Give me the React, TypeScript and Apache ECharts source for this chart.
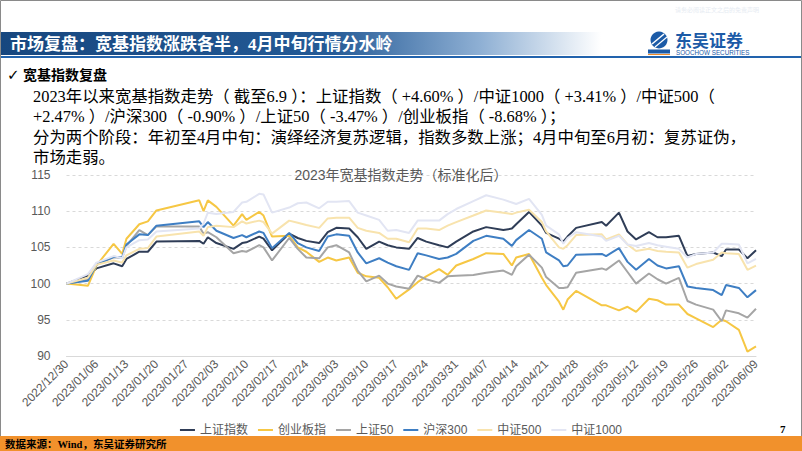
import React, { useEffect, useRef } from 'react';
import * as echarts from 'echarts';

const dates = ['2022/12/30','2023/01/04','2023/01/06','2023/01/10','2023/01/12','2023/01/13','2023/01/16','2023/01/18','2023/01/20','2023/01/30','2023/01/31','2023/02/01','2023/02/03','2023/02/07','2023/02/09','2023/02/10','2023/02/13','2023/02/14','2023/02/16','2023/02/20','2023/02/22','2023/02/24','2023/02/27','2023/03/01','2023/03/03','2023/03/06','2023/03/08','2023/03/10','2023/03/13','2023/03/15','2023/03/17','2023/03/20','2023/03/22','2023/03/24','2023/03/27','2023/03/29','2023/03/31','2023/04/04','2023/04/07','2023/04/11','2023/04/13','2023/04/14','2023/04/17','2023/04/20','2023/04/21','2023/04/24','2023/04/25','2023/04/26','2023/04/28','2023/05/04','2023/05/05','2023/05/08','2023/05/10','2023/05/12','2023/05/15','2023/05/17','2023/05/19','2023/05/22','2023/05/24','2023/05/26','2023/05/30','2023/06/01','2023/06/02','2023/06/05','2023/06/07','2023/06/09'];

// 上证指数
const shIndex = [100,101.1,102.1,102.8,102.4,103.4,104.4,104.4,105.8,105.9,105.5,106.4,105.6,104.8,105.6,105.7,106.5,106.2,104.6,106.9,106.3,105.9,105.6,107.1,107.7,107.6,106.4,104.8,105.8,105.3,105.0,104.8,106.3,105.8,105.3,105.0,105.8,107.2,107.8,107.4,107.6,108.2,109.9,108.0,107.0,106.2,105.8,106.5,107.7,108.5,108.0,109.8,107.2,106.1,107.1,106.4,106.4,106.6,103.8,104.1,104.3,103.8,104.7,104.7,103.5,104.6];
// 创业板指
const cybIndex = [100,99.7,102.5,105.5,104.1,106.2,108.2,108.6,110.1,111.5,110.0,111.5,110.6,108.0,109.6,108.8,109.9,109.4,106.5,106.6,105.0,104.4,103.0,103.6,103.2,103.6,101.5,101.0,100.8,99.5,97.9,99.2,100.2,101.0,102.0,101.2,102.5,103.4,104.2,104.1,102.5,103.6,104.1,100.8,99.8,97.5,96.4,97.8,99.0,97.0,97.0,96.3,96.8,96.1,97.9,97.7,97.1,97.1,95.8,95.2,94.0,95.0,94.8,93.6,90.6,91.32];
// 上证50
const sz50 = [100,100.6,102.8,103.6,103.6,105.2,107.4,106.7,107.9,107.9,106.9,107.1,106.4,104.2,104.5,104.4,105.3,105.0,103.2,106.3,104.8,103.6,103.5,105.0,105.3,104.3,101.8,100.3,101.1,100.0,99.6,99.3,101.1,100.6,100.1,101.0,101.1,101.2,101.5,101.8,101.2,102.4,104.0,102.2,100.9,99.4,99.4,99.5,101.5,102.1,101.9,103.2,101.6,100.0,101.4,100.6,100.0,100.8,97.6,97.1,96.4,94.8,96.3,95.9,95.3,96.53];
// 沪深300
const hs300 = [100,100.4,102.6,103.7,103.6,105.4,106.8,106.7,108.0,108.6,107.8,108.5,107.3,106.3,106.7,106.4,107.2,107.0,104.9,107.0,105.6,105.0,104.5,106.5,106.8,106.6,104.3,102.8,103.5,102.9,102.4,101.9,104.2,103.9,103.4,103.6,104.1,105.9,106.6,106.2,105.2,106.0,107.4,106.2,104.3,103.2,102.4,102.5,104.0,104.1,103.8,104.9,103.0,101.9,103.4,102.5,102.1,102.4,99.6,99.4,99.1,98.4,99.8,99.4,98.1,99.1];
// 中证500
const zz500 = [100,100.8,102.6,103.2,102.9,103.9,104.8,104.9,106.5,107.2,106.6,107.8,108.0,107.8,108.6,108.3,108.7,108.5,106.9,108.7,108.4,108.1,107.7,109.0,109.1,109.1,107.7,107.3,107.0,106.2,106.2,105.7,107.6,107.6,107.4,108.0,108.5,109.4,110.1,109.8,109.6,109.8,110.2,108.5,107.2,105.0,104.8,105.3,106.7,106.8,106.1,106.8,105.4,104.5,104.8,104.5,104.4,104.3,102.2,102.7,103.3,104.3,104.2,104.1,101.9,102.47];
// 中证1000
const zz1000 = [100,101.3,102.9,103.8,103.5,105.0,106.0,106.1,107.2,107.6,108.3,109.8,109.6,109.9,111.2,111.3,112.4,112.3,109.8,110.5,111.1,111.2,110.4,111.3,111.3,111.4,109.8,109.4,108.8,107.3,107.4,107.0,108.7,108.7,108.7,109.6,110.3,111.4,112.2,111.6,111.2,111.0,111.7,109.5,108.0,106.8,105.5,106.3,107.1,106.5,105.9,106.6,105.4,105.2,105.6,105.3,105.1,104.8,103.6,104.1,104.3,105.5,105.5,105.4,102.8,103.41];

const seriesNames = ['上证指数', '创业板指', '上证50', '沪深300', '中证500', '中证1000'];
const seriesValues = [shIndex, cybIndex, sz50, hs300, zz500, zz1000];
const seriesColors = ['#2f3d57', '#f6c744', '#a5a5a5', '#3e7ec3', '#f8e3ad', '#e2e5f3'];

const yMin = 90;
const yMax = 115;
const yStep = 5;
const xStepDays = 7;

const chartTitle = '2023年宽基指数走势（标准化后）';
const headerTitle = '市场复盘：宽基指数涨跌各半，4月中旬行情分水岭';
const heading = '宽基指数复盘';
const bodyLines = [
  '2023年以来宽基指数走势（ 截至6.9 ）：上证指数（ +4.60% ）/中证1000（ +3.41% ）/中证500（',
  '+2.47% ）/沪深300（ -0.90% ）/上证50（ -3.47% ）/创业板指（ -8.68% ）；',
  '分为两个阶段：年初至4月中旬：演绎经济复苏逻辑，指数多数上涨；4月中旬至6月初：复苏证伪，',
  '市场走弱。',
];
const sourceText = '数据来源：Wind，东吴证券研究所';

const BASE = Date.UTC(2022, 11, 30);
const DAY = 86400000;
const pad = (n: number) => (n < 10 ? '0' + n : '' + n);
const dayOffset = (s: string) => {
  const [y, m, d] = s.split('/').map(Number);
  return Math.round((Date.UTC(y, m - 1, d) - BASE) / DAY);
};
const offsetLabel = (v: number) => {
  const t = new Date(BASE + Math.round(v) * DAY);
  return `${t.getUTCFullYear()}/${pad(t.getUTCMonth() + 1)}/${pad(t.getUTCDate())}`;
};

const SERIF = '"Liberation Serif", "Noto Sans CJK SC", serif';
const SANS = '"Liberation Sans", "Noto Sans CJK SC", sans-serif';

function txt(x: number, y: number, text: string, size: number, fill: string, opts: any = {}) {
  return {
    type: 'text',
    x,
    y,
    z: 10,
    style: {
      text,
      fill,
      fontSize: size,
      fontFamily: opts.family || SERIF,
      fontWeight: opts.weight || 'normal',
      textAlign: opts.align || 'left',
      textVerticalAlign: 'middle',
      verticalAlign: 'middle',
    },
  };
}

export default function App() {
  const ref = useRef<HTMLDivElement>(null);

  useEffect(() => {
    if (!ref.current) return;
    const chart = echarts.init(ref.current, null, { renderer: 'svg' });
    const xMax = dayOffset(dates[dates.length - 1]);

    const series = seriesNames.map((name, i) => ({
      name,
      type: 'line',
      symbol: 'none',
      data: dates.map((d, j) => [dayOffset(d), seriesValues[i][j]]),
      lineStyle: { width: 2, color: seriesColors[i] },
      itemStyle: { color: seriesColors[i] },
    }));

    const graphic: any[] = [
      { type: 'rect', z: 0, shape: { x: 0.5, y: 0.5, width: 801, height: 450 }, style: { fill: 'none', stroke: '#8a8a8a', lineWidth: 1 } },
      txt(717, 10, '请务必阅读正文之后的免责声明', 6, '#e6ebf2', { family: SANS, align: 'center' }),
      {
        type: 'rect', z: 1,
        shape: { x: 1, y: 32, width: 600, height: 23 },
        style: {
          fill: new echarts.graphic.LinearGradient(0, 0, 1, 0, [
            { offset: 0, color: '#17477f' },
            { offset: 0.55, color: '#245a96' },
            { offset: 0.8, color: '#8fb0d4' },
            { offset: 1, color: '#ffffff' },
          ]),
        },
      },
      { type: 'rect', z: 1, shape: { x: 1, y: 56, width: 800, height: 2 }, style: { fill: '#2263ad' } },
      txt(10, 44, headerTitle, 17, '#ffffff', { weight: 'bold' }),
      { type: 'circle', z: 5, shape: { cx: 659, cy: 40, r: 8.5 }, style: { fill: '#1c5ba7' } },
      { type: 'line', z: 6, shape: { x1: 652, y1: 44, x2: 664, y2: 34 }, style: { stroke: '#ffffff', lineWidth: 1.6 } },
      { type: 'line', z: 6, shape: { x1: 655, y1: 47, x2: 667, y2: 37 }, style: { stroke: '#ffffff', lineWidth: 1.2 } },
      { type: 'rect', z: 5, shape: { x: 648, y: 49.5, width: 22, height: 4 }, style: { fill: '#1c5ba7' } },
      { type: 'rect', z: 5, shape: { x: 648, y: 54, width: 22, height: 1 }, style: { fill: '#f08c2a' } },
      txt(675, 41, '东吴证券', 17, '#1c5ba7', { family: SANS, weight: 'bold' }),
      txt(676, 52.5, 'SOOCHOW SECURITIES', 6.3, '#1c5ba7', { family: SANS }),
      txt(7, 75, '✓', 15, '#000000', { family: '"DejaVu Sans", sans-serif', weight: 'bold' }),
      txt(23, 75, heading, 14, '#000000', { weight: 'bold' }),
      ...bodyLines.map((l, i) => txt(33, 96 + i * 20.5, l, 16.4, '#000000')),
      { type: 'rect', z: 1, shape: { x: 0, y: 436, width: 802, height: 15 }, style: { fill: '#f1912c' } },
      txt(5, 444, sourceText, 10.5, '#000000', { weight: 'bold' }),
      txt(780, 429, '7', 11, '#000000', { weight: 'bold' }),
    ];

    chart.setOption({
      animation: false,
      backgroundColor: '#ffffff',
      color: seriesColors,
      title: {
        text: chartTitle,
        left: 'center',
        top: 163,
        textStyle: { fontSize: 14, color: '#595959', fontWeight: 'normal', fontFamily: SANS },
      },
      legend: {
        data: seriesNames,
        top: 419,
        left: 'center',
        icon: 'rect',
        itemWidth: 15,
        itemHeight: 2,
        itemGap: 10,
        textStyle: { fontSize: 12, color: '#595959', fontFamily: SANS },
      },
      grid: { left: 66.5, right: 46, top: 175, bottom: 95, containLabel: false },
      xAxis: {
        type: 'value',
        min: 0,
        max: xMax,
        interval: xStepDays,
        axisLine: { show: true, lineStyle: { color: '#d9d9d9', width: 1 } },
        axisTick: { show: false },
        splitLine: { show: false },
        axisLabel: {
          rotate: 45,
          margin: 6,
          fontSize: 12,
          color: '#595959',
          fontFamily: SANS,
          formatter: (v: number) => offsetLabel(v),
          showMinLabel: true,
          showMaxLabel: true,
        },
      },
      yAxis: {
        type: 'value',
        min: yMin,
        max: yMax,
        interval: yStep,
        axisLine: { show: false },
        axisTick: { show: false },
        splitLine: { show: true, lineStyle: { color: '#d9d9d9', type: [3, 3], width: 1 } },
        axisLabel: { fontSize: 12, color: '#595959', margin: 16, fontFamily: SANS },
      },
      series,
      graphic,
    });

    return () => chart.dispose();
  }, []);

  return (
    <div
      ref={ref}
      style={{ position: 'fixed', left: 0, top: 0, width: 802, height: 451, background: '#ffffff' }}
    />
  );
}
